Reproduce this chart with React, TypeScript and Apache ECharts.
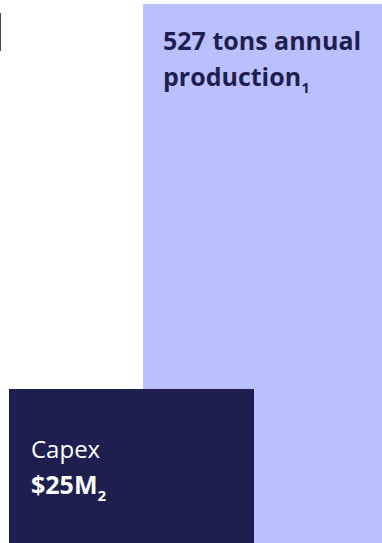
import React, { useEffect, useRef } from "react";
import * as echarts from "echarts";

// Illustration data (chart units on a 0..382 x 0..543 canvas-like value scale)
const CATEGORIES = ["Annual production", "Capex"];
const SPAN_START = [143, 9];
const SPAN_END = [382, 254];
const HEIGHTS = [539, 154];
const LABELS = [
  "{b|527 tons annual}\n{b|production}{s|1}",
  "{r|Capex}\n{b|$25M}{s|2}",
];

const COLORS = ["#BABFFD", "#1F1F4F"];
const TEXT_COLORS = ["#1F1F4F", "#FFFFFF"];
const LABEL_PAD = [
  [20, 18],
  [22, 41],
];

const FONT = "'Open Sans', 'Noto Sans', sans-serif";

export default function App() {
  const ref = useRef<HTMLDivElement>(null);
  useEffect(() => {
    if (!ref.current) return;
    const chart = echarts.init(ref.current, undefined, { renderer: "svg" });
    const data = CATEGORIES.map((c, i) => ({
      name: c,
      value: [SPAN_START[i], SPAN_END[i], HEIGHTS[i]],
    }));
    chart.setOption({
      animation: false,
      grid: { left: 0, right: 0, top: 0, bottom: 0 },
      xAxis: { type: "value", min: 0, max: 382, show: false },
      yAxis: { type: "value", min: 0, max: 543, show: false },
      graphic: [
        {
          type: "rect",
          shape: { x: 0, y: 13, width: 1, height: 38 },
          style: { fill: "#4A4A4A" },
        },
      ],
      series: [
        {
          type: "custom",
          data,
          renderItem: (params: any, api: any) => {
            const i = params.dataIndex;
            const p0 = api.coord([api.value(0), api.value(2)]);
            const p1 = api.coord([api.value(1), 0]);
            const x = p0[0];
            const y = p0[1];
            const color = TEXT_COLORS[i];
            return {
              type: "group",
              children: [
                {
                  type: "rect",
                  shape: { x, y, width: p1[0] - x, height: p1[1] - y },
                  style: { fill: COLORS[i] },
                },
                {
                  type: "text",
                  x: x + LABEL_PAD[i][0],
                  y: y + LABEL_PAD[i][1],
                  style: {
                    text: LABELS[i],
                    fill: color,
                    align: "left",
                    verticalAlign: "top",
                    fontFamily: FONT,
                    rich: {
                      b: {
                        fontFamily: FONT,
                        fontSize: 25,
                        fontWeight: "bold",
                        lineHeight: 36,
                        fill: color,
                      },
                      r: {
                        fontFamily: FONT,
                        fontSize: 24,
                        fontWeight: "normal",
                        lineHeight: 36,
                        fill: color,
                      },
                      s: {
                        fontFamily: FONT,
                        fontSize: 15,
                        fontWeight: "bold",
                        lineHeight: 20,
                        verticalAlign: "bottom",
                        fill: color,
                      },
                    },
                  },
                },
              ],
            };
          },
        },
      ],
    });
    return () => chart.dispose();
  }, []);
  return (
    <div
      ref={ref}
      style={{ position: "absolute", left: 0, top: 0, width: 382, height: 543 }}
    />
  );
}
